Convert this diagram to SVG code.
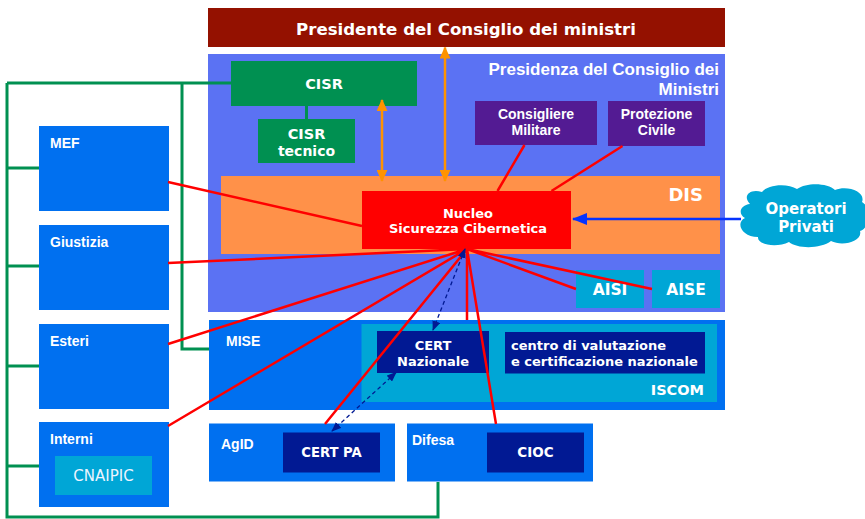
<svg xmlns="http://www.w3.org/2000/svg" width="865" height="519" viewBox="0 0 865 519">
<style>
.v{font-family:"DejaVu Sans",Verdana,sans-serif;font-weight:bold;fill:#fff}
.a{font-family:"Liberation Sans",Arial,sans-serif;font-weight:bold;fill:#fff}
.min{fill:#0070F0}
.cy{fill:#00A6D6}
.nv{fill:#011993}
.pu{fill:#531B93}
.gr{fill:#009051}
.red{stroke:#FF0000;stroke-width:2.5;fill:none}
.grl{stroke:#009051;stroke-width:3;fill:none}
</style>
<defs>
<marker id="oa" viewBox="0 0 12 11" refX="11" refY="5.5" markerWidth="12" markerHeight="11" orient="auto-start-reverse" markerUnits="userSpaceOnUse"><path d="M0,0 L12,5.5 L0,11 z" fill="#FF9300"/></marker>
<marker id="ba" viewBox="0 0 15 12" refX="14" refY="6" markerWidth="15" markerHeight="12" orient="auto" markerUnits="userSpaceOnUse"><path d="M0,0 L15,6 L0,12 z" fill="#0433FF"/></marker>
<marker id="na" viewBox="0 0 10 8" refX="9" refY="4" markerWidth="10" markerHeight="8" orient="auto-start-reverse" markerUnits="userSpaceOnUse"><path d="M0,0 L10,4 L0,8 z" fill="#011993"/></marker>
</defs>

<g id="presidente">
<rect x="208" y="8" width="517" height="39" fill="#941100"/>
<text class="v" x="466" y="35" font-size="16.6" text-anchor="middle">Presidente del Consiglio dei ministri</text>
</g>

<g id="presidenza">
<rect x="208" y="54" width="517" height="258" fill="#5B72F3"/>
<text class="a" x="719" y="75" font-size="17" text-anchor="end">Presidenza del Consiglio dei</text>
<text class="a" x="719" y="94.5" font-size="17" text-anchor="end">Ministri</text>
</g>

<g id="cisr">
<rect class="gr" x="231" y="61" width="186" height="45"/>
<text class="v" x="324" y="89" font-size="14.5" text-anchor="middle">CISR</text>
</g>
<g id="cisr-tecnico">
<rect class="gr" x="258" y="119" width="97" height="44"/>
<text class="v" x="306.5" y="138.5" font-size="14.5" text-anchor="middle">CISR</text>
<text class="v" x="306.5" y="155.5" font-size="14" text-anchor="middle">tecnico</text>
</g>
<g id="consigliere-militare">
<rect class="pu" x="475" y="101" width="122" height="44"/>
<text class="a" x="536" y="119" font-size="14" text-anchor="middle">Consigliere</text>
<text class="a" x="536" y="135" font-size="14" text-anchor="middle">Militare</text>
</g>
<g id="protezione-civile">
<rect class="pu" x="608" y="101" width="97" height="45"/>
<text class="a" x="656.5" y="119" font-size="14" text-anchor="middle">Protezione</text>
<text class="a" x="656.5" y="135" font-size="14" text-anchor="middle">Civile</text>
</g>
<g id="dis">
<rect x="221" y="176" width="499" height="78" fill="#FF9149"/>
<text class="v" x="703" y="200.5" font-size="18" text-anchor="end">DIS</text>
</g>
<g id="nucleo">
<rect x="362" y="191" width="209" height="58" fill="#FF0000"/>
<text class="v" x="468" y="217.5" font-size="13" text-anchor="middle">Nucleo</text>
<text class="v" x="468" y="233" font-size="13" text-anchor="middle">Sicurezza Cibernetica</text>
</g>
<g id="aisi">
<rect class="cy" x="576" y="270" width="68" height="38"/>
<text class="v" x="610" y="295" font-size="15.5" text-anchor="middle">AISI</text>
</g>
<g id="aise">
<rect class="cy" x="652" y="270" width="68" height="38"/>
<text class="v" x="686" y="295" font-size="15.5" text-anchor="middle">AISE</text>
</g>

<g id="operatori-privati">
<path d="M750,204 C742,196 750,188 762,192 C768,184 788,183 797,189 C807,182 828,183 835,190 C848,185 866,192 862,202 C872,208 870,228 860,231 C863,241 843,247 831,241 C821,249 797,249 789,242 C777,248 757,245 758,237 C742,237 735,223 745,218 C737,213 741,205 750,204 Z" fill="#00A6D6"/>
<text class="v" x="806" y="214" font-size="15" text-anchor="middle">Operatori</text>
<text class="v" x="806" y="232" font-size="15" text-anchor="middle">Privati</text>
</g>

<g id="mise">
<rect class="min" x="209" y="320" width="516" height="90"/>
<text class="a" x="226" y="346" font-size="14">MISE</text>
</g>
<g id="iscom">
<rect class="cy" x="361.5" y="324" width="355.5" height="78"/>
<text class="v" x="704" y="394.5" font-size="14.5" text-anchor="end">ISCOM</text>
</g>
<g id="cert-nazionale">
<rect class="nv" x="377" y="331" width="112" height="42"/>
<text class="v" x="433" y="349.5" font-size="13" text-anchor="middle">CERT</text>
<text class="v" x="433" y="365.8" font-size="13" text-anchor="middle">Nazionale</text>
</g>
<g id="centro-valutazione">
<rect class="nv" x="505" y="332" width="200" height="41.5"/>
<text class="v" x="511" y="349.5" font-size="13">centro di valutazione</text>
<text class="v" x="511" y="365.8" font-size="13">e certificazione nazionale</text>
</g>
<g id="agid">
<rect class="min" x="209" y="423.5" width="186" height="58"/>
<text class="a" x="221" y="448.5" font-size="14">AgID</text>
</g>
<g id="cert-pa">
<rect class="nv" x="283" y="432.5" width="97" height="40"/>
<text class="v" x="331.5" y="457" font-size="13.2" text-anchor="middle">CERT PA</text>
</g>
<g id="difesa">
<rect class="min" x="407" y="423.5" width="186" height="58"/>
<text class="a" x="412" y="445" font-size="14">Difesa</text>
</g>
<g id="cioc">
<rect class="nv" x="487" y="432.5" width="97" height="40"/>
<text class="v" x="535.5" y="457" font-size="13.5" text-anchor="middle">CIOC</text>
</g>

<g id="mef">
<rect class="min" x="39" y="126" width="130" height="85"/>
<text class="a" x="50" y="148" font-size="14">MEF</text>
</g>
<g id="giustizia">
<rect class="min" x="39" y="225" width="130" height="85"/>
<text class="a" x="50" y="247" font-size="14">Giustizia</text>
</g>
<g id="esteri">
<rect class="min" x="39" y="324" width="130" height="85"/>
<text class="a" x="50" y="346" font-size="14">Esteri</text>
</g>
<g id="interni">
<rect class="min" x="39" y="422" width="130" height="85"/>
<text class="a" x="50" y="444" font-size="14">Interni</text>
</g>
<g id="cnaipic">
<rect class="cy" x="55" y="456" width="97" height="39"/>
<text x="103.5" y="481" font-size="15" text-anchor="middle" font-family="DejaVu Sans, Verdana, sans-serif" fill="#EAF4FF">CNAIPIC</text>
</g>

<g id="connectors">
<path class="grl" d="M7,83 H231 M7,83 V517 H438 V482 M182,83 V349 H209 M7,168 H39 M7,266 H39 M7,366 H39 M7,466 H39 M306.5,106 V119"/>
<line x1="382" y1="100" x2="382" y2="181" stroke="#FF9300" stroke-width="2.5" marker-start="url(#oa)" marker-end="url(#oa)"/>
<line x1="445" y1="47.5" x2="445" y2="181" stroke="#FF9300" stroke-width="2.5" marker-start="url(#oa)" marker-end="url(#oa)"/>
<path class="red" d="M524.5,145 L497.5,191 M622.5,146 L551.5,191 M168,182 L362,226 M168,263 L467,249 M168,344 L467,249 M168,426 L467,249 M325,424 L467,249 M467,249 L467,320 M467,249 L496,424 M467,249 L576,289 M467,249 L652,289"/>
<line x1="741" y1="219" x2="573" y2="219" stroke="#0433FF" stroke-width="2.5" marker-end="url(#ba)"/>
<line x1="465" y1="249" x2="433" y2="330" stroke="#011993" stroke-width="1.3" stroke-dasharray="4 3" marker-start="url(#na)" marker-end="url(#na)"/>
<line x1="396" y1="372.5" x2="332" y2="431" stroke="#011993" stroke-width="1.3" stroke-dasharray="4 3" marker-start="url(#na)" marker-end="url(#na)"/>
</g>
</svg>
